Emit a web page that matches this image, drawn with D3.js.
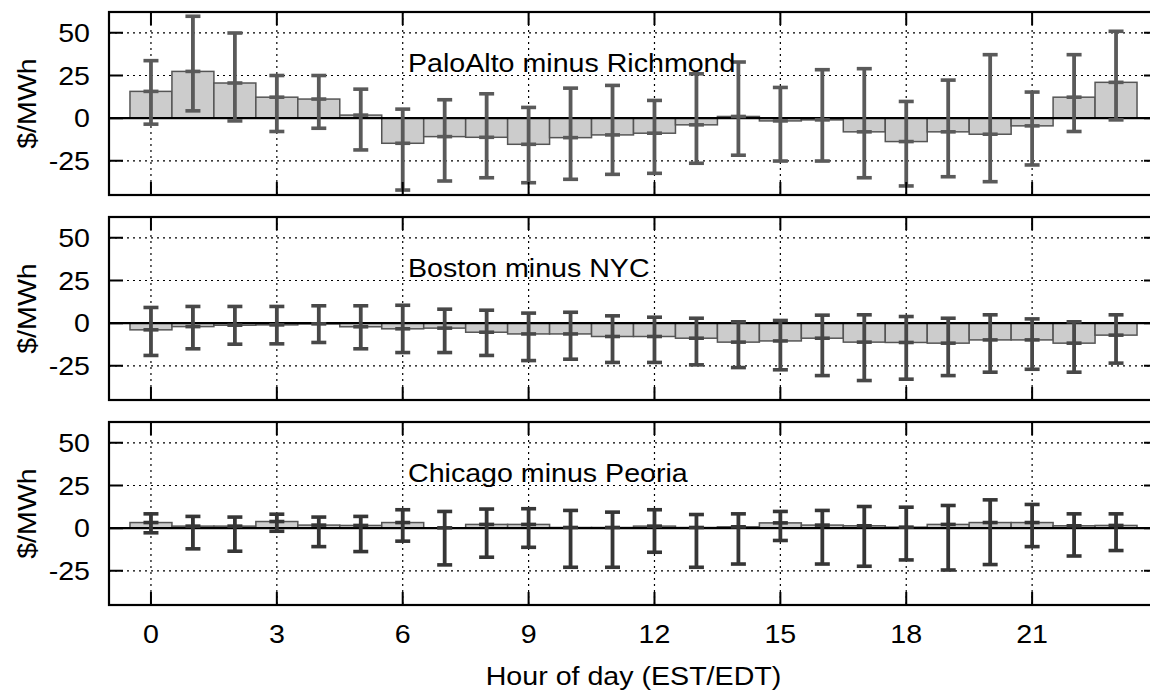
<!DOCTYPE html>
<html>
<head>
<meta charset="utf-8">
<script src="https://cdn.jsdelivr.net/npm/d3@7"></script>
<style>
  body { margin: 0; background: #fff; }
  text { font-family: "Liberation Sans", Arial, sans-serif; fill: #000; }
</style>
</head>
<body>
<svg id="chart"></svg>
<script>
// data
const hours = d3.range(0, 24);
const panelTitles = ["PaloAlto minus Richmond", "Boston minus NYC", "Chicago minus Peoria"];

// PaloAlto minus Richmond
const paMean = [15.7, 27.4, 20.6, 12.3, 11.2, 1.8, -14.7, -10.8, -11.2, -15.3, -11.4, -9.8,
    -8.8, -3.9, 1.0, -1.6, -1.0, -8.0, -13.7, -8.0, -9.4, -4.5, 12.3, 21.0];
const paHigh = [33.7, 59.7, 49.9, 25.0, 25.0, 17.0, 5.3, 10.8, 14.3, 6.3, 17.6, 19.2,
    10.4, 26.0, 32.9, 18.0, 28.4, 29.0, 9.8, 22.3, 37.2, 15.3, 37.2, 50.9];
const paLow = [-3.5, 4.3, -1.6, -7.8, -5.9, -18.6, -42.1, -36.8, -34.9, -37.8, -35.8, -32.9,
    -32.3, -26.4, -21.7, -25.1, -25.1, -34.9, -39.7, -34.3, -37.2, -27.4, -7.8, -1.0];

// Boston minus NYC
const bnMean = [-3.9, -2.0, -1.2, -1.0, -0.4, -2.1, -3.3, -2.9, -5.3, -6.3, -6.3, -7.8,
    -7.8, -8.8, -11.1, -10.4, -8.8, -11.1, -11.3, -11.7, -9.8, -9.8, -11.7, -7.0];
const bnHigh = [9.2, 9.8, 9.8, 9.8, 10.2, 10.2, 10.5, 8.2, 7.6, 5.9, 6.4, 4.3,
    3.5, 2.9, 0.8, 1.6, 4.7, 4.9, 3.9, 2.9, 4.9, 2.5, 0.8, 4.9];
const bnLow = [-18.9, -15.0, -12.3, -12.1, -11.3, -15.0, -17.2, -17.2, -18.9, -21.9, -21.1, -23.0,
    -23.0, -24.4, -26.0, -27.3, -30.7, -33.6, -32.8, -30.7, -28.7, -27.0, -28.7, -23.4];

// Chicago minus Peoria
const cpMean = [3.3, 1.2, 1.2, 3.9, 1.8, 1.6, 3.3, 0.2, 2.2, 2.2, 0.4, 0.4,
    1.2, 0.4, 0.8, 3.1, 1.8, 1.4, 0.6, 2.2, 3.3, 3.3, 1.4, 1.6];
const cpHigh = [8.4, 6.9, 6.5, 8.2, 6.5, 6.9, 10.8, 9.8, 11.2, 11.4, 10.4, 9.4,
    10.8, 8.0, 8.4, 9.8, 10.4, 12.7, 12.3, 13.3, 16.6, 13.9, 8.4, 8.4];
const cpLow = [-2.7, -12.1, -13.5, -1.8, -10.8, -13.7, -7.6, -21.5, -17.0, -11.2, -22.9, -22.9,
    -14.1, -22.9, -21.0, -7.2, -21.0, -22.3, -18.6, -24.5, -21.3, -10.8, -16.3, -13.1];

const xTicks = [0, 3, 6, 9, 12, 15, 18, 21, 24];
const yTicks = [50, 25, 0, -25];

var width = 1150, height = 694;
var panelTop = [12, 217, 422], panelH = 183;
var errColor = ["#5a5a5a", "#484848", "#363636"];
var textStretch = 1.1;

const svg = d3.select("#chart").attr("width", width).attr("height", height);

// x axis goes -1..24, the right edge falls just outside the picture
var x = d3.scaleLinear().domain([-1, 24]).range([109, 1158]);

const panels = [
    { mean: paMean, high: paHigh, low: paLow },
    { mean: bnMean, high: bnHigh, low: bnLow },
    { mean: cpMean, high: cpHigh, low: cpLow },
];

function stretchedText(g, tx, ty, str, anchor, rot) {
    return g.append("text")
        .attr("transform", "translate(" + tx + "," + ty + ")" + (rot ? " rotate(" + rot + ")" : "") + " scale(" + textStretch + ",1)")
        .attr("text-anchor", anchor)
        .style("font-size", "26px")
        .text(str);
}

panels.forEach((p, i) => {
    var top = panelTop[i];
    var y = d3.scaleLinear().domain([-45, 62.2]).range([top + panelH, top]);
    var g = svg.append("g");
    var data = hours.map((h, k) => ({ h: h, mean: p.mean[k], high: p.high[k], low: p.low[k] }));

    // dotted grid
    g.selectAll(".vgrid")
        .data(xTicks)
        .join("line")
        .attr("x1", (d) => x(d)).attr("x2", (d) => x(d))
        .attr("y1", top).attr("y2", top + panelH)
        .attr("stroke", "#000").attr("stroke-width", 1.2)
        .attr("stroke-dasharray", "2,4");
    g.selectAll(".hgrid")
        .data(yTicks.filter((d) => d != 0))
        .join("line")
        .attr("x1", x(-1)).attr("x2", x(24))
        .attr("y1", (d) => y(d)).attr("y2", (d) => y(d))
        .attr("stroke", "#000").attr("stroke-width", 1.2)
        .attr("stroke-dasharray", "2,4");

    // bars
    g.selectAll(".bar")
        .data(data)
        .join("rect")
        .attr("x", (d) => x(d.h - 0.5))
        .attr("width", (d) => x(d.h + 0.5) - x(d.h - 0.5))
        .attr("y", (d) => y(Math.max(d.mean, 0)))
        .attr("height", (d) => Math.abs(y(d.mean) - y(0)))
        .attr("fill", "#cccccc")
        .attr("stroke", "#555555")
        .attr("stroke-width", 1.5);

    // zero line
    g.append("line")
        .attr("x1", x(-1)).attr("x2", x(24))
        .attr("y1", y(0)).attr("y2", y(0))
        .attr("stroke", "#000").attr("stroke-width", 2.2);

    // error bars with caps and a mark at the mean
    var eb = g.selectAll(".err").data(data).join("g").attr("stroke", errColor[i]);
    eb.append("line")
        .attr("x1", (d) => x(d.h)).attr("x2", (d) => x(d.h))
        .attr("y1", (d) => y(d.high)).attr("y2", (d) => y(d.low))
        .attr("stroke-width", 3.8);
    ["high", "low", "mean"].forEach((key) => {
        eb.append("line")
            .attr("x1", (d) => x(d.h) - 7.5).attr("x2", (d) => x(d.h) + 7.5)
            .attr("y1", (d) => y(d[key])).attr("y2", (d) => y(d[key]))
            .attr("stroke-width", 3.6);
    });

    // frame
    g.append("rect")
        .attr("x", x(-1)).attr("y", top)
        .attr("width", x(24) - x(-1)).attr("height", panelH)
        .attr("fill", "none").attr("stroke", "#000").attr("stroke-width", 2.2);

    // ticks, inward on all four sides
    g.selectAll(".xt")
        .data(xTicks)
        .join("path")
        .attr("d", (d) => "M" + x(d) + "," + top + "v13M" + x(d) + "," + (top + panelH) + "v-13")
        .attr("stroke", "#000").attr("stroke-width", 2);
    g.selectAll(".yt")
        .data(yTicks)
        .join("path")
        .attr("d", (d) => "M" + x(-1) + "," + y(d) + "h14M" + x(24) + "," + y(d) + "h-14")
        .attr("stroke", "#000").attr("stroke-width", 2);

    // tick labels
    yTicks.forEach((t) => {
        stretchedText(g, 90, y(t) + 9, t, "end");
    });
    stretchedText(g, 36, top + panelH / 2, "$/MWh", "middle", -90);
    stretchedText(g, 408, y(0) - 46, panelTitles[i], "start");
});

// bottom labels
xTicks.filter((d) => d < 24).forEach((t) => {
    stretchedText(svg, x(t), 643, t, "middle");
});
stretchedText(svg, (x(-1) + x(24)) / 2, 685, "Hour of day (EST/EDT)", "middle");
</script>
</body>
</html>
